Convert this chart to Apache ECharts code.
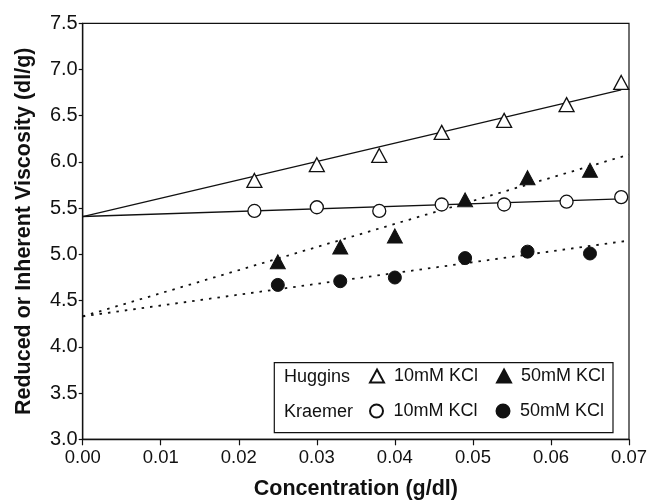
<!DOCTYPE html>
<html>
<head>
<meta charset="utf-8">
<script src="https://cdn.jsdelivr.net/npm/echarts@6/dist/echarts.min.js"></script>
<style>html,body{margin:0;padding:0;background:#fff}#c{width:648px;height:500px}</style>
</head>
<body>
<div id="c"></div>
<script>
// ---- data ----
var conc10 = [0.022, 0.030, 0.038, 0.046, 0.054, 0.062, 0.069];
var huggins10 = [5.80, 5.97, 6.07, 6.32, 6.45, 6.62, 6.86];
var kraemer10 = [5.47, 5.51, 5.47, 5.54, 5.54, 5.57, 5.62];
var conc50 = [0.025, 0.033, 0.040, 0.049, 0.057, 0.065];
var huggins50 = [4.92, 5.08, 5.20, 5.59, 5.83, 5.91];
var kraemer50 = [4.67, 4.71, 4.75, 4.96, 5.03, 5.01];
// fitted lines (end points)
var fit10X = [0, 0.069];
var hugFit10 = [5.41, 6.78];
var kraFit10 = [5.41, 5.60];
var fit50X = [0, 0.07];
var hugFit50 = [4.33, 6.08];
var kraFit50 = [4.33, 5.15];
var seriesNames = ['Huggins 10mM KCl', 'Huggins 50mM KCl', 'Kraemer 10mM KCl', 'Kraemer 50mM KCl'];
var rowLabels = ['Huggins', 'Kraemer'];

function pairs(xs, ys) { return xs.map(function (x, i) { return [x, ys[i]]; }); }

var FONT = 'Liberation Sans, Arial, sans-serif';
var INK = '#111';

var chart = echarts.init(document.getElementById('c'), null, { renderer: 'canvas' });

function fitLine(xs, ys, dotted) {
  return {
    type: 'line', data: pairs(xs, ys), symbol: 'none', silent: true, z: 2,
    lineStyle: { color: INK, width: dotted ? 1.8 : 1.3, type: dotted ? [2.5, 6] : 'solid', opacity: 1 }
  };
}
function marks(name, xs, ys, sym, filled, size) {
  return {
    type: 'scatter', name: name, data: pairs(xs, ys), symbol: sym, symbolSize: size, z: 5,
    itemStyle: filled ? { color: INK, borderColor: INK, borderWidth: 1, opacity: 1 } :
      { color: '#fff', borderColor: INK, borderWidth: 1.3, opacity: 1 }
  };
}

var legendCommon = {
  orient: 'horizontal', left: 369, padding: 0, itemGap: 18, z: 10,
  itemWidth: 14, itemHeight: 13, selectedMode: false,
  textStyle: { fontFamily: FONT, fontSize: 18, color: INK, padding: [0, 0, 0, 5] },
  formatter: function (n) { return n.replace(/^\S+\s/, ''); }
};

chart.setOption({
  animation: false,
  backgroundColor: '#fff',
  grid: { left: 82.7, right: 19, top: 23.3, bottom: 60.7, show: true, borderColor: INK, borderWidth: 1.2,
          containLabel: false, outerBoundsMode: 'none' },
  xAxis: {
    type: 'value', min: 0, max: 0.07, interval: 0.01,
    name: 'Concentration (g/dl)', nameLocation: 'middle', nameGap: 39,
    nameTextStyle: { fontFamily: FONT, fontSize: 21.5, fontWeight: 'bold', color: INK },
    axisLine: { show: true, lineStyle: { color: INK, width: 1.3 } },
    axisTick: { show: true, inside: false, length: 6, lineStyle: { color: INK, width: 1.2 } },
    axisLabel: { fontFamily: FONT, fontSize: 18.5, color: INK, margin: 9, formatter: function (v) { return v.toFixed(2); } },
    splitLine: { show: false }
  },
  yAxis: {
    type: 'value', min: 3, max: 7.5, interval: 0.5,
    name: 'Reduced or Inherent Viscosity (dl/g)', nameLocation: 'middle', nameGap: 48,
    nameTextStyle: { fontFamily: FONT, fontSize: 21.5, fontWeight: 'bold', color: INK },
    axisLine: { show: true, lineStyle: { color: INK, width: 1.3 } },
    axisTick: { show: true, inside: false, length: 4, lineStyle: { color: INK, width: 1.2 } },
    axisLabel: { fontFamily: FONT, fontSize: 20, color: INK, margin: 5, formatter: function (v) { return v.toFixed(1); } },
    splitLine: { show: false }
  },
  legend: [
    Object.assign({ data: [seriesNames[0], seriesNames[1]], top: 367 }, legendCommon),
    Object.assign({ data: [seriesNames[2], seriesNames[3]], top: 402 }, legendCommon)
  ],
  graphic: [
    { type: 'rect', shape: { x: 274.3, y: 362.7, width: 338.7, height: 70 }, style: { fill: '#fff', stroke: INK, lineWidth: 1.2 }, z: 3 },
    { type: 'text', x: 284, y: 376.7, style: { text: rowLabels[0], font: '18px ' + FONT, fill: INK, textVerticalAlign: 'middle' }, z: 11 },
    { type: 'text', x: 284, y: 411.7, style: { text: rowLabels[1], font: '18px ' + FONT, fill: INK, textVerticalAlign: 'middle' }, z: 11 }
  ],
  series: [
    fitLine(fit10X, hugFit10, false),
    fitLine(fit10X, kraFit10, false),
    fitLine(fit50X, hugFit50, true),
    fitLine(fit50X, kraFit50, true),
    marks(seriesNames[0], conc10, huggins10, 'triangle', false, [15, 14]),
    marks(seriesNames[1], conc50, huggins50, 'triangle', true, [15, 14]),
    marks(seriesNames[2], conc10, kraemer10, 'circle', false, 13),
    marks(seriesNames[3], conc50, kraemer50, 'circle', true, 13)
  ]
});
</script>
</body>
</html>
